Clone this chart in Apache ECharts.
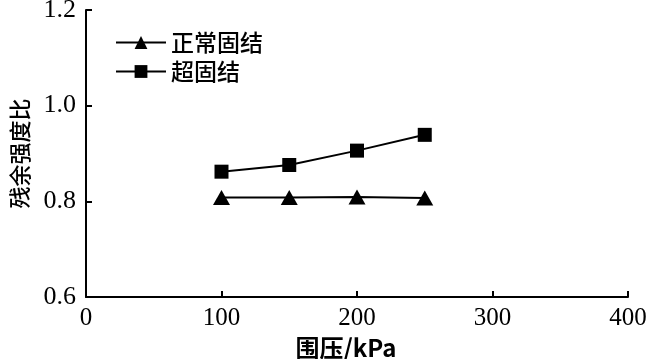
<!DOCTYPE html>
<html><head><meta charset="utf-8">
<script src="https://cdn.jsdelivr.net/npm/echarts@6/dist/echarts.min.js"></script>
<style>html,body{margin:0;padding:0;background:#fff}#c{width:651px;height:359px}</style>
</head><body><div id="c"></div>
<script>
const pressures = [100, 150, 200, 250];
const normalConsolidated = [0.808, 0.808, 0.809, 0.807];
const overConsolidated = [0.862, 0.876, 0.906, 0.939];
const xTicks = [0, 100, 200, 300, 400];
const yTicks = [0.6, 0.8, 1.0, 1.2];
const seriesNames = ['正常固结', '超固结'];
const xName = '围压/kPa';
const yName = '残余强度比';

const numFont = '"Liberation Serif", "Times New Roman", serif';
const cjkFont = '"Noto Sans CJK SC", sans-serif';
const chart = echarts.init(document.getElementById('c'));
chart.setOption({
  animation: false,
  grid: {left: 86, top: 10, right: 23, bottom: 62, containLabel: false, outerBoundsMode: 'none'},
  legend: {
    left: 110, top: 26, orient: 'vertical', itemGap: 6,
    itemWidth: 50, itemHeight: 16,
    textStyle: {fontFamily: cjkFont, fontSize: 23, color: '#000', fontWeight: 500},
    data: seriesNames
  },
  xAxis: {
    type: 'value', min: 0, max: 400, interval: 100,
    name: xName, nameLocation: 'middle', nameGap: 35,
    nameTextStyle: {fontFamily: cjkFont, fontSize: 24, color: '#000', fontWeight: 'bold', padding: [0, 22, 0, 0]},
    axisLine: {lineStyle: {color: '#000', width: 2}},
    axisTick: {inside: true, length: 6, lineStyle: {color: '#000', width: 2}},
    axisLabel: {fontFamily: numFont, fontSize: 25, color: '#000', margin: 9,
      formatter: v => xTicks.includes(v) ? String(v) : ''},
    splitLine: {show: false}
  },
  yAxis: {
    type: 'value', min: 0.6, max: 1.2, interval: 0.2,
    name: yName, nameLocation: 'middle', nameGap: 55, nameRotate: 90,
    nameTextStyle: {fontFamily: cjkFont, fontSize: 22, color: '#000', fontWeight: 500},
    axisLine: {lineStyle: {color: '#000', width: 2}},
    axisTick: {inside: true, length: 6, lineStyle: {color: '#000', width: 2}},
    axisLabel: {fontFamily: numFont, fontSize: 26, color: '#000', margin: 10,
      formatter: v => { const t = yTicks.find(y => Math.abs(y - v) < 1e-6); return t === undefined ? '' : t.toFixed(1); }},
    splitLine: {show: false}
  },
  series: [
    {name: seriesNames[0], type: 'line', symbol: 'triangle', symbolSize: [17, 15],
     data: pressures.map((p, i) => [p, normalConsolidated[i]]),
     lineStyle: {color: '#000', width: 2}, itemStyle: {color: '#000'}},
    {name: seriesNames[1], type: 'line', symbol: 'rect', symbolSize: 14,
     data: pressures.map((p, i) => [p, overConsolidated[i]]),
     lineStyle: {color: '#000', width: 2}, itemStyle: {color: '#000'}}
  ]
});
</script></body></html>
